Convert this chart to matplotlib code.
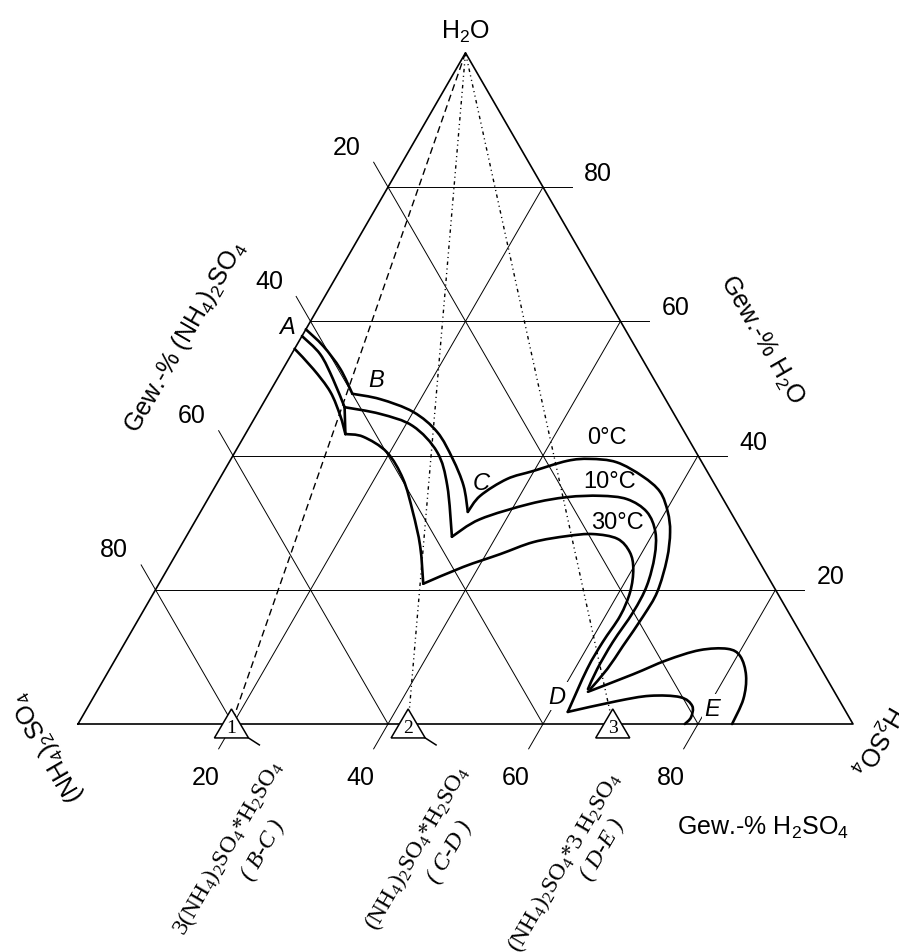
import numpy as np
import matplotlib
matplotlib.use("Agg")
import matplotlib.pyplot as plt
from matplotlib.path import Path
from matplotlib.patches import PathPatch

plt.rcParams["font.family"] = ["Liberation Sans", "DejaVu Sans"]
plt.rcParams["mathtext.fontset"] = "custom"
plt.rcParams["mathtext.rm"] = "Liberation Sans"
plt.rcParams["mathtext.it"] = "Liberation Sans:italic"
plt.rcParams["mathtext.tt"] = "Liberation Serif"

H = np.sqrt(3) / 2

grid_values = [20, 40, 60, 80]

# compositions as (wt-% H2SO4, wt-% H2O)
t0_ab = [(0.0, 58.8), (3.5, 56.3), (7.4, 52.9), (10.8, 49.2)]
t0_bc = [(10.8, 49.2), (14.8, 48.4), (20.0, 46.5), (24.6, 43.5), (28.6, 39.5), (32.0, 35.5), (34.5, 31.6)]
t0_cd = [(34.5, 31.6), (34.9, 34.0), (37.1, 36.5), (39.9, 37.7), (43.5, 39.2), (46.3, 39.5), (50.0, 39.0),
         (54.4, 36.9), (57.8, 34.6), (60.3, 31.6), (62.1, 28.6), (63.7, 24.6), (64.9, 19.7), (64.9, 16.1),
         (64.5, 11.6), (64.2, 8.2), (63.5, 5.2)]

t10_ab = [(0.0, 57.8), (3.7, 55.1), (7.2, 51.4), (10.8, 47.2)]
t10_bc = [(10.8, 47.2), (15.9, 46.2), (21.0, 44.4), (26.1, 40.5), (29.9, 35.5), (34.3, 27.9)]
t10_cd = [(34.3, 27.9), (36.6, 30.5), (41.9, 32.8), (46.2, 33.8), (50.4, 34.0), (54.1, 33.5), (57.6, 31.6),
          (60.2, 28.6), (61.9, 25.0), (63.1, 20.6), (63.3, 16.7), (62.9, 12.2), (62.9, 8.2), (63.2, 5.2)]

t30_ab = [(0.0, 55.9), (3.9, 52.9), (7.8, 49.5), (10.9, 45.9), (12.9, 43.2)]
t30_bc = [(12.9, 43.2), (15.4, 42.8), (19.6, 40.5), (23.7, 36.5), (27.4, 31.6), (30.9, 26.5), (34.1, 20.9)]
t30_cd = [(34.1, 20.9), (38.0, 23.4), (41.8, 25.3), (45.2, 27.1), (49.1, 28.0), (52.3, 28.3), (55.8, 27.6),
          (58.4, 25.6), (60.1, 23.1), (61.4, 19.7), (61.9, 16.1), (61.6, 12.2), (61.6, 8.2), (62.3, 1.8)]
t30_de = [(62.3, 1.8), (67.8, 3.4), (71.7, 4.2), (75.7, 4.0), (77.9, 2.7), (78.6, 1.0), (78.3, 0.0)]

t0_10_de = [(63.4, 4.8), (67.9, 7.4), (71.2, 9.5), (74.7, 11.0), (78.2, 11.2), (80.4, 10.1), (82.6, 7.2),
            (84.0, 3.7), (84.4, 0.0)]
b_link = [(10.8, 47.2), (12.9, 43.2)]

# solid compounds on the H2O-free side
compound_acid = [19.8, 42.6, 69.0]
compound_ids = ["1", "2", "3"]
compound_names = [r"3(NH$_\mathtt{4}$)$_\mathtt{2}$SO$_\mathtt{4}$*H$_\mathtt{2}$SO$_\mathtt{4}$",
                  r"(NH$_\mathtt{4}$)$_\mathtt{2}$SO$_\mathtt{4}$*H$_\mathtt{2}$SO$_\mathtt{4}$",
                  r"(NH$_\mathtt{4}$)$_\mathtt{2}$SO$_\mathtt{4}$*3 H$_\mathtt{2}$SO$_\mathtt{4}$"]
compound_branches = ["( B-C )", "( C-D )", "( D-E )"]
dotted = (0, (2.5, 2.5, 0.8, 2.5, 0.8, 2.5))
tie_styles = [(0, (5, 3)), dotted, dotted]


def tern(acid, water):
    a = np.asarray(acid, dtype=float) / 100
    w = np.asarray(water, dtype=float) / 100
    return a + w / 2, w * H


def curve(points):
    acid, water = zip(*points)
    x, y = tern(acid, water)
    p = np.column_stack([x, y])
    if len(p) < 3:
        ax.plot(x, y, color="black", lw=1.9, zorder=4, solid_capstyle="round")
        return
    # smooth bezier through the read points (catmull-rom handles)
    ext = np.vstack([p[0], p, p[-1]])
    verts, codes = [p[0]], [Path.MOVETO]
    for i in range(len(p) - 1):
        p0, p1, p2, p3 = ext[i], ext[i + 1], ext[i + 2], ext[i + 3]
        verts += [p1 + (p2 - p0) / 6, p2 - (p3 - p1) / 6, p2]
        codes += [Path.CURVE4] * 3
    ax.add_patch(PathPatch(Path(verts, codes), fill=False, edgecolor="black", lw=1.9, zorder=4,
                           capstyle="round", joinstyle="round"))


fig = plt.figure(figsize=(8.99, 9.53), dpi=100)
ax = fig.add_axes([0, 0, 1, 1])
ax.set_xlim(-78 / 775, 821 / 775)
ax.set_ylim(-228 / 775, 725 / 775)
ax.axis("off")

tick = 0.037
fs = 18
ax.plot([0, 1, 0.5, 0], [0, 0, H, 0], color="black", lw=1.2, zorder=2)

for v in grid_values:
    # constant H2O, tick to the right
    xl, yl = tern(0, v)
    xr, yr = tern(100 - v, v)
    ax.plot([xl, xr + tick], [yl, yr], color="black", lw=0.7, zorder=1)
    ax.text(xr + tick + 0.034, yr + 0.018, str(v), fontsize=fs, ha="center", va="center")
    # constant (NH4)2SO4, tick up-left
    xl, yl = tern(0, 100 - v)
    xb, yb = tern(100 - v, 0)
    xt, yt = xl - tick * 0.5, yl + tick * H
    ax.plot([xt, xb], [yt, yb], color="black", lw=0.7, zorder=1)
    ax.text(xt - 0.035, yt + 0.02, str(v), fontsize=fs, ha="center", va="center")
    # constant H2SO4, tick down-left
    xb, yb = tern(v, 0)
    xr, yr = tern(v, 100 - v)
    xt, yt = xb - tick * 0.5, yb - tick * H
    ax.plot([xt, xr], [yt, yr], color="black", lw=0.7, zorder=1)
    ax.text(xt - 0.017, yt - 0.036, str(v), fontsize=fs, ha="center", va="center")

# tie lines from the water corner to the compounds
for acid, style in zip(compound_acid, tie_styles):
    x0, y0 = tern(0, 100)
    x1, y1 = tern(acid, 0)
    ax.plot([x0, x1], [y0, y1], color="black", lw=1.0, linestyle=style, zorder=2)

for branch in [t0_ab, t0_bc, t0_cd, t10_ab, t10_bc, t10_cd, t30_ab, t30_bc, t30_cd, t30_de, t0_10_de, b_link]:
    curve(branch)

# compound markers
for i, (acid, cid) in enumerate(zip(compound_acid, compound_ids)):
    x, _ = tern(acid, 0)
    tri = plt.Polygon([(x - 0.022, -0.018), (x + 0.022, -0.018), (x, 0.0194)], closed=True,
                      facecolor="white", edgecolor="black", lw=1.1, zorder=5)
    ax.add_patch(tri)
    if i < 2:
        ax.plot([x + 0.022, x + 0.036], [-0.018, -0.027], color="black", lw=1.1, zorder=5)
    ax.text(x, -0.004, cid, fontsize=14, family="Liberation Serif", ha="center", va="center", zorder=6)

# compound names
name_pos = [(0.1935, -0.1587), (0.4374, -0.1587), (0.6284, -0.1768)]
branch_pos = [(0.2387, -0.1613), (0.480, -0.1639), (0.6774, -0.1613)]
for name, (x, y) in zip(compound_names, name_pos):
    ax.text(x, y, name, fontsize=17, family="Liberation Serif", rotation=60, rotation_mode="anchor",
            ha="center", va="center")
for name, (x, y) in zip(compound_branches, branch_pos):
    ax.text(x, y, name, fontsize=17, family="Liberation Serif", style="italic", rotation=60,
            rotation_mode="anchor", ha="center", va="center")

# corners and axis titles
ax.text(0.5, 0.894, r"H$_2$O", fontsize=fs, ha="center", va="center")
ax.text(-0.040, -0.0284, r"(NH$_4$)$_2$SO$_4$", fontsize=fs, rotation=120, rotation_mode="anchor",
        ha="center", va="center")
ax.text(1.0297, -0.0194, r"H$_2$SO$_4$", fontsize=fs, rotation=-120, rotation_mode="anchor",
        ha="center", va="center")
ax.text(0.138, 0.5006, r"Gew.-% (NH$_4$)$_2$SO$_4$", fontsize=fs, rotation=60, rotation_mode="anchor",
        ha="center", va="center")
ax.text(0.8826, 0.4968, r"Gew.-% H$_2$O", fontsize=fs, rotation=-60, rotation_mode="anchor",
        ha="center", va="center")
ax.text(0.8839, -0.1329, r"Gew.-% H$_2$SO$_4$", fontsize=fs, ha="center", va="center")

# point and isotherm labels
point_labels = {"A": (0.2697, 0.5135), "B": (0.3845, 0.4439), "C": (0.520, 0.311),
                "D": (0.618, 0.0361), "E": (0.818, 0.0206)}
for lab, (x, y) in point_labels.items():
    box = dict(facecolor="white", edgecolor="none", pad=1.5) if lab in "DE" else None
    ax.text(x, y, lab, fontsize=17, style="italic", ha="center", va="center", bbox=box, zorder=3)
iso_labels = {"0°C": (0.6826, 0.3703), "10°C": (0.6865, 0.3135), "30°C": (0.6955, 0.2606)}
for lab, (x, y) in iso_labels.items():
    ax.text(x, y, lab, fontsize=17, ha="center", va="center", zorder=3)

fig.savefig("out.png", dpi=100)
